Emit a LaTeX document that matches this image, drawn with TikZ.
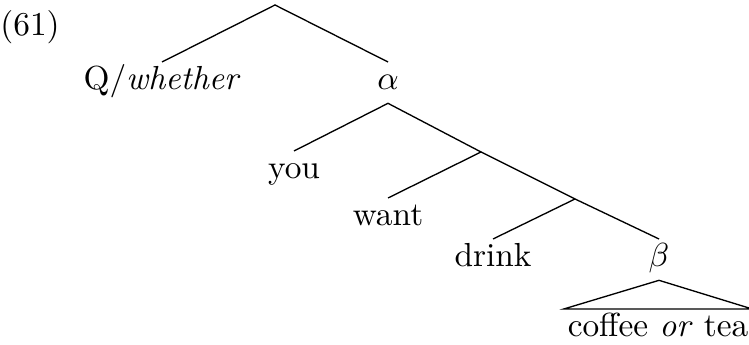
\documentclass[tikz,border=0pt]{standalone}
\usepackage{amsmath,amssymb}

\begin{document}
\begin{tikzpicture}[x=0.3pt,y=-0.3pt,
  leaf/.style={anchor=north, inner sep=1pt, text height=7pt, text depth=3pt},
  branch/.style={line width=0.4pt}]
\useasboundingbox (0,0) rectangle (749,345);

% Example number
\node (num) at (30,27) {(61)};

% Branching points
\coordinate (root) at (275,5);
\coordinate (vp1) at (481,152);
\coordinate (vp2) at (575,199);

% Leaves and labelled nodes
\node[leaf] (q) at (162,62) {Q/\textit{whether}};
\node[leaf] (alpha) at (388,62) {$\alpha$};
\node[leaf] (you) at (294,151) {you};
\node[leaf] (want) at (388,198) {want};
\node[leaf] (drink) at (493,239) {drink};
\node[leaf] (beta) at (659,239) {$\beta$};
\node[leaf, inner xsep=1pt] (ct) at (658,309) {coffee \textit{or} tea};

% Branches
\draw[branch] (q.north) -- (root) -- (alpha.north);
\draw[branch] (you.north) -- (alpha.south) -- (vp1);
\draw[branch] (want.north) -- (vp1) -- (vp2);
\draw[branch] (drink.north) -- (vp2) -- (beta.north);

% Triangle over the coordinated phrase
\draw[branch] (ct.north west) -- (beta.south) -- (ct.north east) -- cycle;
\end{tikzpicture}
\end{document}
